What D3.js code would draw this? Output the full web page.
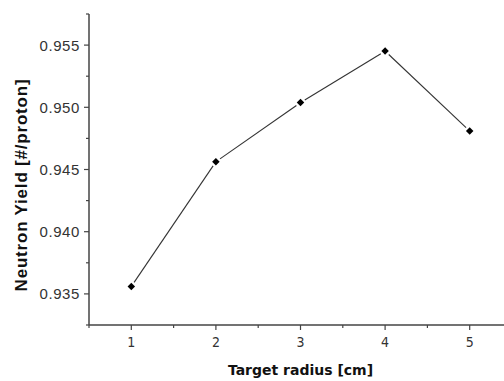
<!DOCTYPE html>
<html>
<head>
<meta charset="utf-8">
<script src="https://cdn.jsdelivr.net/npm/d3@7"></script>
<style>
  body { margin: 0; background: #fff; }
  svg { display: block; }
</style>
</head>
<body>
<div id="chart"></div>
<script>
// Chart data
const radius = [1, 2, 3, 4, 5];
const yieldValues = [0.93559, 0.94562, 0.95038, 0.95452, 0.94809];
const xMajorTicks = [1, 2, 3, 4, 5];
const xMinorTicks = [0.5, 1.5, 2.5, 3.5, 4.5];
const yMajorTicks = [0.935, 0.940, 0.945, 0.950, 0.955];
const yMinorTicks = [0.9325, 0.9375, 0.9425, 0.9475, 0.9525, 0.9575];

const width = 504, height = 381;
const margin = {top: 14, right: -8, bottom: 56, left: 89};

let svg = d3.select("#chart")
    .append("svg")
    .attr("width", width)
    .attr("height", height);

let x = d3.scaleLinear()
    .domain([0.5, 5.5])
    .range([margin.left, width - margin.right]);

let y = d3.scaleLinear()
    .domain([0.9325, 0.9575])
    .range([height - margin.bottom, margin.top]);

const axisColor = "#444";

// Y axis line and ticks
svg.append("line")
    .attr("x1", x(0.5)).attr("x2", x(0.5))
    .attr("y1", y(0.9575)).attr("y2", y(0.9325))
    .attr("stroke", axisColor)
    .attr("stroke-width", 1.5);

svg.selectAll(".ymajor").data(yMajorTicks).enter()
    .append("line")
    .attr("x1", x(0.5) - 5).attr("x2", x(0.5))
    .attr("y1", d => y(d)).attr("y2", d => y(d))
    .attr("stroke", axisColor).attr("stroke-width", 1.2);

svg.selectAll(".yminor").data(yMinorTicks).enter()
    .append("line")
    .attr("x1", x(0.5) - 3).attr("x2", x(0.5))
    .attr("y1", d => y(d)).attr("y2", d => y(d))
    .attr("stroke", axisColor).attr("stroke-width", 1.2);

svg.selectAll(".ylabel").data(yMajorTicks).enter()
    .append("text")
    .attr("x", x(0.5) - 9)
    .attr("y", d => y(d))
    .attr("dy", "0.36em")
    .style("text-anchor", "end")
    .style("font-family", "Liberation Sans, Arial, sans-serif")
    .style("font-size", "15px")
    .style("letter-spacing", "0.6px")
    .style("fill", "#333")
    .text(d => d3.format(".3f")(d));

// X axis line and ticks
svg.append("line")
    .attr("x1", x(0.5)).attr("x2", x(5.5))
    .attr("y1", y(0.9325)).attr("y2", y(0.9325))
    .attr("stroke", axisColor)
    .attr("stroke-width", 1.5);

svg.selectAll(".xmajor").data(xMajorTicks).enter()
    .append("line")
    .attr("x1", d => x(d)).attr("x2", d => x(d))
    .attr("y1", y(0.9325)).attr("y2", y(0.9325) + 5)
    .attr("stroke", axisColor).attr("stroke-width", 1.2);

svg.selectAll(".xminor").data(xMinorTicks).enter()
    .append("line")
    .attr("x1", d => x(d)).attr("x2", d => x(d))
    .attr("y1", y(0.9325)).attr("y2", y(0.9325) + 3)
    .attr("stroke", axisColor).attr("stroke-width", 1.2);

svg.selectAll(".xlabel").data(xMajorTicks).enter()
    .append("text")
    .attr("x", d => x(d))
    .attr("y", y(0.9325) + 22)
    .style("text-anchor", "middle")
    .style("font-family", "DejaVu Sans Condensed, Liberation Sans, sans-serif")
    .style("font-size", "14px")
    .style("fill", "#333")
    .text(d => d);

// Axis titles
svg.append("text")
    .attr("transform", `translate(${x(3)}, ${height - 6})`)
    .style("text-anchor", "middle")
    .style("font-family", "DejaVu Sans, sans-serif")
    .style("font-weight", "bold")
    .style("font-size", "14px")
    .style("fill", "#111")
    .text("Target radius [cm]");

svg.append("text")
    .attr("transform", `translate(27, 185) rotate(-90)`)
    .style("text-anchor", "middle")
    .style("font-family", "Liberation Sans, Arial, sans-serif")
    .style("font-weight", "bold")
    .style("font-size", "17px")
    .style("letter-spacing", "0.8px")
    .style("fill", "#111")
    .text("Neutron Yield [#/proton]");

// Line segments with a small gap around each marker
const points = radius.map((r, i) => [x(r), y(yieldValues[i])]);
const gap = 5;
const segments = d3.pairs(points).map(([a, b]) => {
    const dx = b[0] - a[0], dy = b[1] - a[1];
    const len = Math.sqrt(dx * dx + dy * dy);
    const ux = dx / len, uy = dy / len;
    return [[a[0] + ux * gap, a[1] + uy * gap], [b[0] - ux * gap, b[1] - uy * gap]];
});

svg.selectAll(".seg").data(segments).enter()
    .append("path")
    .attr("d", d => d3.line()(d))
    .attr("fill", "none")
    .attr("stroke", "#333")
    .attr("stroke-width", 1.1);

svg.selectAll(".pt").data(radius).enter()
    .append("path")
    .attr("transform", (d, i) => `translate(${x(d)}, ${y(yieldValues[i])}) rotate(45)`)
    .attr("d", d3.symbol().type(d3.symbolSquare).size(28))
    .attr("fill", "#000");
</script>
</body>
</html>
